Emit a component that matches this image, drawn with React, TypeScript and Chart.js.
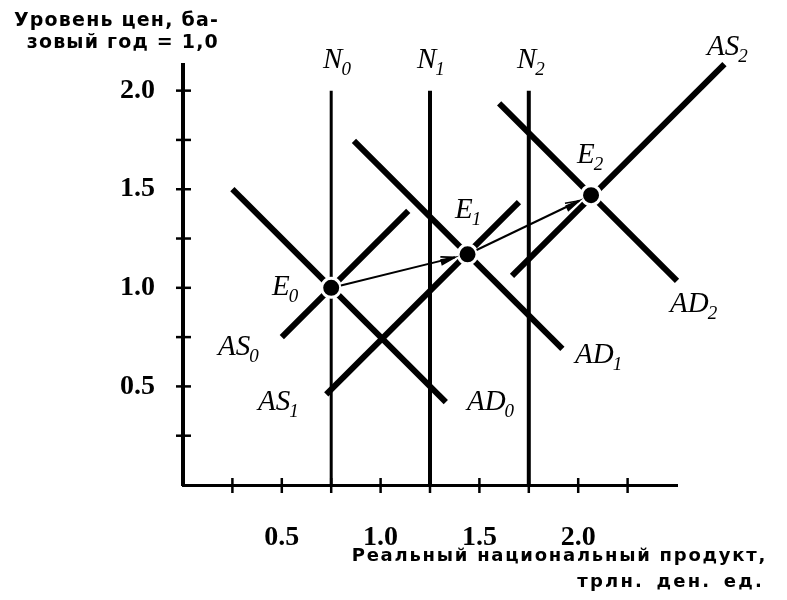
import React, { useEffect, useRef } from 'react';
import { Chart, registerables } from 'chart.js';

Chart.register(...registerables);

// Axis ticks (values) and labelled ticks
const X_TICKS = [0.25, 0.5, 0.75, 1.0, 1.25, 1.5, 1.75, 2.0, 2.25];
const X_LABELED = [0.5, 1.0, 1.5, 2.0];
const Y_TICKS = [0.25, 0.5, 0.75, 1.0, 1.25, 1.5, 1.75, 2.0];
const Y_LABELED = [0.5, 1.0, 1.5, 2.0];

// Curves
const AD0 = [{ x: 0.25, y: 1.5 }, { x: 1.33, y: 0.42 }];
const AD1 = [{ x: 0.865, y: 1.745 }, { x: 1.92, y: 0.69 }];
const AD2 = [{ x: 1.6, y: 1.935 }, { x: 2.5, y: 1.035 }];
const AS0 = [{ x: 0.5, y: 0.75 }, { x: 1.14, y: 1.39 }];
const AS1 = [{ x: 0.725, y: 0.46 }, { x: 1.7, y: 1.435 }];
const AS2 = [{ x: 1.665, y: 1.06 }, { x: 2.74, y: 2.135 }];

// Vertical lines N0, N1, N2
const N_X = [0.75, 1.25, 1.75];
const N_TOP = 2.0;

// Equilibrium points E0, E1, E2
const E_POINTS = [{ x: 0.75, y: 1.0 }, { x: 1.44, y: 1.17 }, { x: 2.065, y: 1.47 }];

// Curve labels: main letters, subscript, anchor in data coordinates
const LABEL_MAIN = ['N', 'N', 'N', 'AS', 'E', 'E', 'E', 'AS', 'AS', 'AD', 'AD', 'AD'];
const LABEL_SUB = ['0', '1', '2', '2', '2', '1', '0', '0', '1', '0', '1', '2'];
const LABEL_X = [0.709, 1.184, 1.69, 2.652, 1.994, 1.377, 0.45, 0.177, 0.38, 1.437, 1.984, 2.465];
const LABEL_Y = [2.115, 2.115, 2.115, 2.181, 1.633, 1.354, 0.963, 0.659, 0.38, 0.38, 0.619, 0.877];

const Y_TITLE = ['Уровень цен, ба-', 'зовый год = 1,0'];
const X_TITLE = ['Реальный национальный продукт,', 'трлн. ден. ед.'];

const near = (arr: number[], v: number) => arr.some((a) => Math.abs(a - v) < 1e-6);

const overlay = {
  id: 'overlay',
  afterDatasetsDraw(chart: any) {
    const ctx = chart.ctx;
    const xs = chart.scales.x;
    const ys = chart.scales.y;
    // arrows between equilibria
    ctx.save();
    ctx.strokeStyle = '#000';
    for (let i = 0; i < E_POINTS.length - 1; i++) {
      const x0 = xs.getPixelForValue(E_POINTS[i].x);
      const y0 = ys.getPixelForValue(E_POINTS[i].y);
      const x1 = xs.getPixelForValue(E_POINTS[i + 1].x);
      const y1 = ys.getPixelForValue(E_POINTS[i + 1].y);
      const len = Math.hypot(x1 - x0, y1 - y0);
      const dx = (x1 - x0) / len;
      const dy = (y1 - y0) / len;
      const sx = x0 + dx * 10;
      const sy = y0 + dy * 10;
      const ex = x1 - dx * 13;
      const ey = y1 - dy * 13;
      ctx.lineWidth = 2;
      ctx.beginPath();
      ctx.moveTo(sx, sy);
      ctx.lineTo(ex, ey);
      ctx.stroke();
      const bx = ex - dx * 14;
      const by = ey - dy * 14;
      const nx = -dy;
      const ny = dx;
      ctx.lineWidth = 1.6;
      ctx.beginPath();
      ctx.moveTo(ex, ey);
      ctx.lineTo(bx + nx * 4, by + ny * 4);
      ctx.lineTo(bx - nx * 1, by - ny * 1);
      ctx.closePath();
      ctx.fillStyle = '#000';
      ctx.fill();
      ctx.stroke();
      ctx.beginPath();
      ctx.moveTo(ex, ey);
      ctx.lineTo(bx - nx * 4, by - ny * 4);
      ctx.stroke();
    }
    ctx.restore();
  },
  afterDraw(chart: any) {
    const ctx = chart.ctx;
    const xs = chart.scales.x;
    const ys = chart.scales.y;
    ctx.save();
    ctx.strokeStyle = '#000';
    ctx.fillStyle = '#000';
    // tick marks crossing the axes
    ctx.lineWidth = 2.5;
    const axX = xs.getPixelForValue(0);
    const axY = ys.getPixelForValue(0);
    Y_TICKS.forEach((v) => {
      const p = ys.getPixelForValue(v);
      ctx.beginPath();
      ctx.moveTo(axX - 7, p);
      ctx.lineTo(axX + 8, p);
      ctx.stroke();
    });
    X_TICKS.forEach((v) => {
      const p = xs.getPixelForValue(v);
      ctx.beginPath();
      ctx.moveTo(p, axY - 7);
      ctx.lineTo(p, axY + 8);
      ctx.stroke();
    });
    // curve labels
    ctx.textBaseline = 'alphabetic';
    ctx.textAlign = 'left';
    for (let i = 0; i < LABEL_MAIN.length; i++) {
      const px = xs.getPixelForValue(LABEL_X[i]);
      const py = ys.getPixelForValue(LABEL_Y[i]);
      ctx.font = 'italic 29px "Liberation Serif"';
      ctx.fillText(LABEL_MAIN[i], px, py);
      const w = ctx.measureText(LABEL_MAIN[i]).width;
      ctx.font = 'italic 19px "Liberation Serif"';
      ctx.fillText(LABEL_SUB[i], px + w - 1, py + 7);
    }
    // axis titles
    ctx.textAlign = 'right';
    ctx.font = 'bold 19px "DejaVu Sans"';
    (ctx as any).letterSpacing = '1.2px';
    ctx.fillText(Y_TITLE[0], 219, 26);
    ctx.fillText(Y_TITLE[1], 219, 48);
    ctx.font = 'bold 18px "DejaVu Sans"';
    (ctx as any).letterSpacing = '1.75px';
    (ctx as any).wordSpacing = '0px';
    ctx.fillText(X_TITLE[0], 767, 561);
    (ctx as any).letterSpacing = '2.2px';
    (ctx as any).wordSpacing = '4px';
    ctx.fillText(X_TITLE[1], 764, 587);
    ctx.restore();
  },
};

export default function App() {
  const ref = useRef<HTMLCanvasElement | null>(null);
  useEffect(() => {
    if (!ref.current) return;
    const lineDs = (data: any[], width: number) => ({
      type: 'line' as const,
      data,
      borderColor: '#000',
      borderWidth: width,
      pointRadius: 0,
      showLine: true,
      fill: false,
      clip: false as any,
      order: 2,
    });
    const nWidths = [3, 4, 4];
    const datasets: any[] = [
      {
        type: 'scatter',
        data: E_POINTS,
        pointRadius: 9.5,
        pointBorderWidth: 3,
        pointBackgroundColor: '#000',
        pointBorderColor: '#fff',
        order: 0,
        clip: false,
      },
      lineDs(AD0, 6),
      lineDs(AD1, 6),
      lineDs(AD2, 6),
      lineDs(AS0, 6),
      lineDs(AS1, 6),
      lineDs(AS2, 6),
      ...N_X.map((x, i) => ({ ...lineDs([{ x, y: 0 }, { x, y: N_TOP }], nWidths[i]), order: 3 })),
    ];
    const chart = new Chart(ref.current, {
      type: 'scatter',
      data: { datasets },
      plugins: [overlay],
      options: {
        responsive: false,
        animation: false,
        events: [],
        layout: { padding: { top: 65, right: 110, left: 0, bottom: 0 } },
        plugins: { legend: { display: false }, tooltip: { enabled: false } },
        scales: {
          x: {
            type: 'linear',
            min: 0,
            max: 2.5,
            grid: { display: false, drawTicks: false },
            border: { display: true, color: '#000', width: 3 },
            afterFit: (s: any) => {
              s.height = 115;
            },
            ticks: {
              stepSize: 0.25,
              autoSkip: false,
              includeBounds: false,
              maxRotation: 0,
              padding: 36,
              color: '#000',
              font: { family: 'Liberation Serif', size: 28, weight: 'bold' },
              callback: (v: any) => (near(X_LABELED, Number(v)) ? Number(v).toFixed(1) : ''),
            },
          },
          y: {
            type: 'linear',
            min: 0,
            max: 2.13,
            grid: { display: false, drawTicks: false },
            border: { display: true, color: '#000', width: 4 },
            afterFit: (s: any) => {
              s.width = 183;
            },
            ticks: {
              stepSize: 0.25,
              autoSkip: false,
              includeBounds: false,
              padding: 28,
              color: '#000',
              font: { family: 'Liberation Serif', size: 28, weight: 'bold' },
              callback: (v: any) => (near(Y_LABELED, Number(v)) ? Number(v).toFixed(1) : ''),
            },
          },
        },
      },
    });
    return () => chart.destroy();
  }, []);
  return (
    <div style={{ position: 'absolute', left: 0, top: 0, width: 787, height: 600, background: '#fff' }}>
      <canvas ref={ref} width={787} height={600} style={{ display: 'block' }} />
    </div>
  );
}
